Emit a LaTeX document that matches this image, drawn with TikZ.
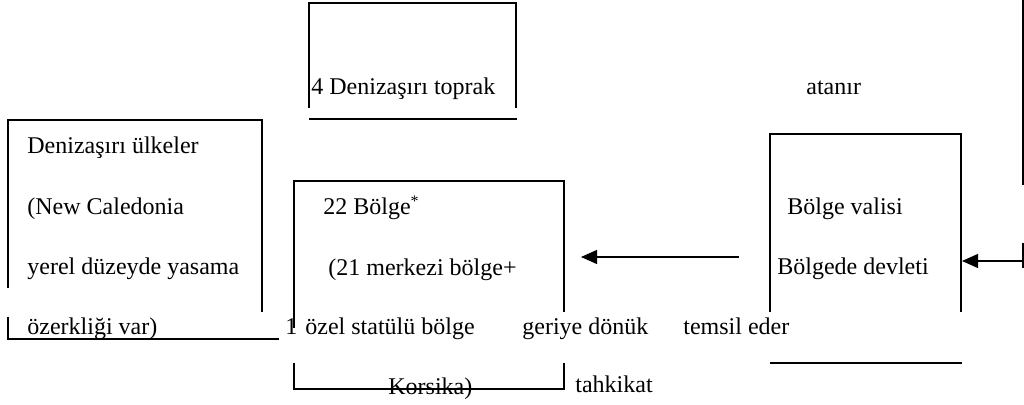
\documentclass[tikz,border=0pt]{standalone}
\usepackage{fontspec}
\setmainfont{Liberation Serif}
\usetikzlibrary{arrows.meta}

\tikzset{
  txt/.style={anchor=base west, inner sep=0pt, font=\fontsize{12}{14}\selectfont},
  frame/.style={line width=1pt},
  link/.style={-{Triangle[length=8pt,width=7pt]}, line width=0.6pt}
}

\begin{document}
\begin{tikzpicture}[x=0.5pt, y=-0.5pt]
            \useasboundingbox (0,0) rectangle (1024,405);
            \draw[frame] (8,288) -- (8,120) -- (262,120) -- (262,312);
            \draw[frame] (8,317) -- (8,339) -- (279,339);
            \draw[frame] (309,108) -- (309,3) -- (516,3) -- (516,108);
            \draw[frame] (309,119) -- (517,119);
            \draw[frame] (294,328) -- (294,181) -- (564,181) -- (564,312);
            \draw[frame] (294,363) -- (294,389) -- (564,389) -- (564,363);
            \draw[frame] (770,312) -- (770,134) -- (961,134) -- (961,312);
            \draw[frame] (770,363) -- (962,363);
            \draw[line width=0.6pt] (1023,0) -- (1023,185);
            \draw[line width=0.6pt] (1023,243) -- (1023,268);
            \node[txt] (ulke1) at (27,154) {Denizaşırı ülkeler};
            \node[txt] (ulke2) at (27,215) {(New Caledonia};
            \node[txt] (ulke3) at (27,275) {yerel düzeyde yasama};
            \node[txt] (ulke4) at (27,335) {özerkliği var)};
            \node[txt] (toprak) at (311,95) {4 Denizaşırı toprak};
            \node[txt] (atanir) at (806,95) {atanır};
            \node[txt] (bolge1) at (323,215) {22 Bölge\textsuperscript{*}};
            \node[txt] (bolge2) at (328,276) {(21 merkezi bölge+};
            \node[txt] (bir) at (285,335) {1};
            \node[txt] (bolge3) at (305,335) {özel statülü bölge};
            \node[txt] (geri) at (522,335) {geriye dönük};
            \node[txt] (temsil) at (683,335) {temsil eder};
            \node[txt] (bolge4) at (388,395) {Korsika)};
            \node[txt] (tahkik) at (575,393) {tahkikat};
            \node[txt] (vali1) at (787,215) {Bölge valisi};
            \node[txt] (vali2) at (777,275) {Bölgede devleti};
            \coordinate (a1) at (739,257);
            \coordinate (b1) at (581,257);
            \coordinate (a2) at (1023,261);
            \coordinate (b2) at (962,261);
            \draw[link] (a1) -- (b1);
            \draw[link] (a2) -- (b2);
        \end{tikzpicture}
\end{document}
